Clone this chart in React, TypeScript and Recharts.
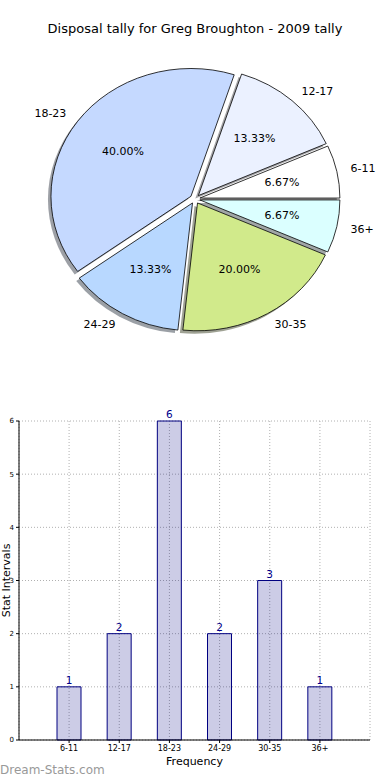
import React from 'react';
import {
  PieChart, Pie, BarChart, Bar, XAxis, YAxis, CartesianGrid, LabelList,
} from 'recharts';

const categories = ['6-11', '12-17', '18-23', '24-29', '30-35', '36+'];
const counts = [1, 2, 6, 2, 3, 1];
const sliceColors = ['#ffffff', '#ebf1ff', '#c5d9ff', '#b8d8ff', '#d1ea8b', '#dbffff'];
const yTicks = [0, 1, 2, 3, 4, 5, 6];

const data = categories.map((name, i) => ({ name, value: counts[i] }));

const FONT = '"DejaVu Sans", sans-serif';
const Y_SCALE = 0.913; // matplotlib pie is not drawn with equal axes, so it is an ellipse
const EXPLODE = 5;
const RAD = Math.PI / 180;

function darken(hex: string) {
  const n = parseInt(hex.slice(1), 16);
  const r = Math.round(((n >> 16) & 255) * 0.3);
  const g = Math.round(((n >> 8) & 255) * 0.3);
  const b = Math.round((n & 255) * 0.3);
  return `rgb(${r},${g},${b})`;
}

function wedgePath(cx: number, cy: number, r: number, a0: number, a1: number) {
  const ry = r * Y_SCALE;
  const x0 = cx + r * Math.cos(a0 * RAD);
  const y0 = cy - ry * Math.sin(a0 * RAD);
  const x1 = cx + r * Math.cos(a1 * RAD);
  const y1 = cy - ry * Math.sin(a1 * RAD);
  const large = Math.abs(a1 - a0) > 180 ? 1 : 0;
  return `M${cx},${cy} L${x0},${y0} A${r},${ry} 0 ${large} 0 ${x1},${y1} Z`;
}

function offsetFor(mid: number) {
  return { dx: EXPLODE * Math.cos(mid * RAD), dy: -EXPLODE * Y_SCALE * Math.sin(mid * RAD) };
}

function renderShadow(props: any) {
  const { cx, cy, outerRadius, startAngle, endAngle, midAngle, index } = props;
  const { dx, dy } = offsetFor(midAngle);
  return (
    <path
      d={wedgePath(cx + dx - 3, cy + dy + 3, outerRadius, startAngle, endAngle)}
      fill={darken(sliceColors[index % sliceColors.length])}
      fillOpacity={0.5}
      stroke="none"
    />
  );
}

function renderWedge(props: any) {
  const { cx, cy, outerRadius, startAngle, endAngle, midAngle, index, percent } = props;
  const name = props.name ?? props.payload?.name;
  const { dx, dy } = offsetFor(midAngle);
  const ox = cx + dx;
  const oy = cy + dy;
  const cos = Math.cos(midAngle * RAD);
  const sin = Math.sin(midAngle * RAD);
  const lx = ox + 1.1 * outerRadius * cos;
  const ly = oy - 1.1 * outerRadius * Y_SCALE * sin;
  const px = ox + 0.6 * outerRadius * cos;
  const py = oy - 0.6 * outerRadius * Y_SCALE * sin;
  return (
    <g>
      <path
        d={wedgePath(ox, oy, outerRadius, startAngle, endAngle)}
        fill={sliceColors[index % sliceColors.length]}
        stroke="#000"
        strokeWidth={0.8}
      />
      <text x={lx} y={ly} textAnchor={cos >= 0 ? 'start' : 'end'} dominantBaseline="central"
        fontSize={11} fontFamily={FONT} fill="#000">{name}</text>
      <text x={px} y={py} textAnchor="middle" dominantBaseline="central"
        fontSize={11} fontFamily={FONT} fill="#000">{(percent * 100).toFixed(2)}%</text>
    </g>
  );
}

function YTitle(p: any) {
  const vb = p.viewBox || { x: 0, y: 21, height: 319 };
  const x = vb.x + 6;
  const y = vb.y + vb.height / 2;
  return (
    <text x={x} y={y} transform={`rotate(-90 ${x} ${y})`} textAnchor="middle"
      dominantBaseline="central" fontSize={11} fontFamily={FONT} fill="#000">Stat Intervals</text>
  );
}

export default function App() {
  return (
    <div style={{ position: 'relative', width: 390, height: 780, overflow: 'hidden', background: '#fff', fontFamily: FONT }}>
      <style>{'html, body { margin: 0; padding: 0; background: #fff; }'}</style>
      <div style={{ position: 'absolute', top: 21, left: 0, width: 390, textAlign: 'center', fontSize: 13, color: '#000' }}>
        Disposal tally for Greg Broughton - 2009 tally
      </div>

      <div style={{ position: 'absolute', top: 0, left: 0 }}>
        <PieChart width={390} height={400} margin={{ top: 0, right: 0, bottom: 0, left: 0 }}>
          <Pie data={data} dataKey="value" nameKey="name" cx={195} cy={199} outerRadius={140}
            startAngle={0} endAngle={360} fill="none" stroke="none"
            label={renderShadow} labelLine={false} isAnimationActive={false} />
          <Pie data={data} dataKey="value" nameKey="name" cx={195} cy={199} outerRadius={140}
            startAngle={0} endAngle={360} fill="none" stroke="none"
            label={renderWedge} labelLine={false} isAnimationActive={false} />
        </PieChart>
      </div>

      <div style={{ position: 'absolute', top: 400, left: 0 }}>
        <BarChart width={390} height={380} data={data} margin={{ top: 21, right: 20, bottom: 0, left: 0 }}>
          <CartesianGrid stroke="#b0b0b0" strokeDasharray="1 2" />
          <XAxis dataKey="name" padding={{ left: 25, right: 25 }} height={40} tickSize={3}
            tick={{ fontSize: 8, fill: '#000', fontFamily: FONT }} axisLine={{ stroke: '#000' }} tickLine={{ stroke: '#000' }}
            label={{ value: 'Frequency', position: 'insideBottom', offset: 15, fontSize: 11, fill: '#000', fontFamily: FONT }} />
          <XAxis xAxisId="top" orientation="top" dataKey="name" padding={{ left: 25, right: 25 }} height={0}
            tick={false} tickSize={-4} tickLine={{ stroke: '#000' }} axisLine={{ stroke: '#000' }} />
          <YAxis domain={[0, 6]} ticks={yTicks} width={19} tickSize={3}
            tick={{ fontSize: 7, fill: '#000', fontFamily: FONT }} axisLine={{ stroke: '#000' }} tickLine={{ stroke: '#000' }}
            label={<YTitle />} />
          <YAxis yAxisId="right" orientation="right" domain={[0, 6]} ticks={yTicks} width={0}
            tick={false} tickSize={-4} tickLine={{ stroke: '#000' }} axisLine={{ stroke: '#000' }} />
          <Bar dataKey="value" barSize={24} fill="#000080" fillOpacity={0.2} stroke="#000080" strokeWidth={1}
            isAnimationActive={false}>
            <LabelList dataKey="value" position="top" offset={3} fill="#00008b" fontSize={10.5} fontFamily={FONT} />
          </Bar>
        </BarChart>
      </div>

      <div style={{ position: 'absolute', top: 763, left: 0, fontSize: 12, color: '#999' }}>
        Dream-Stats.com
      </div>
    </div>
  );
}
